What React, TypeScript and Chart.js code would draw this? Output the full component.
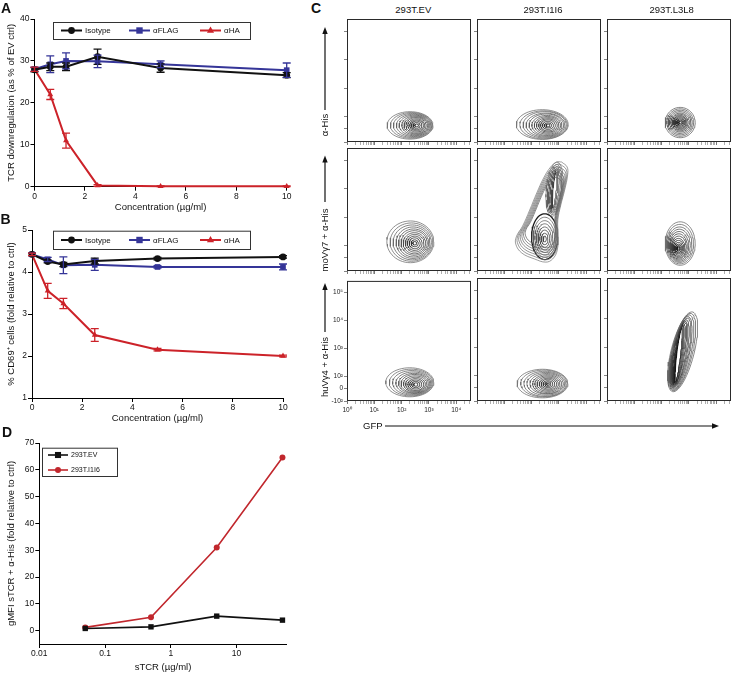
import React, { useEffect, useRef } from "react";
import { Chart, registerables } from "chart.js";

Chart.register(...registerables);

const FONT = "'Liberation Sans', Arial, Helvetica, sans-serif";
Chart.defaults.font.family = FONT;
Chart.defaults.color = "#111";

// ---------------- Panel A ----------------
const concA = [0, 0.625, 1.25, 2.5, 5, 10];
const isotypeA = [27.9, 28.6, 28.6, 31.0, 28.3, 26.6];
const isotypeAErr = [0.5, 0.9, 0.9, 1.8, 1.0, 0.6];
const flagA = [28.0, 29.2, 30.0, 29.9, 29.2, 27.8];
const flagAErr = [0.5, 2.0, 1.9, 1.5, 0.8, 1.7];
const haA = [28.0, 22.0, 11.0, 0.3, 0.1, 0.1];
const haAErr = [0.5, 1.2, 1.8, 0.2, 0.1, 0.1];
const xTicksA = [0, 2, 4, 6, 8, 10];
const yTicksA = [0, 10, 20, 30, 40];

// ---------------- Panel B ----------------
const concB = [0, 0.625, 1.25, 2.5, 5, 10];
const isotypeB = [4.42, 4.25, 4.18, 4.26, 4.32, 4.36];
const isotypeBErr = [0.03, 0.03, 0.05, 0.07, 0.03, 0.03];
const flagB = [4.42, 4.30, 4.16, 4.17, 4.12, 4.12];
const flagBErr = [0.03, 0.05, 0.2, 0.13, 0.03, 0.07];
const haB = [4.42, 3.55, 3.25, 2.50, 2.15, 2.00];
const haBErr = [0.03, 0.18, 0.12, 0.15, 0.03, 0.02];
const xTicksB = [0, 2, 4, 6, 8, 10];
const yTicksB = [1, 2, 3, 4, 5];

// ---------------- Panel D ----------------
const stcrD = [0.05, 0.5, 5, 50];
const evD = [0.8, 1.4, 5.4, 3.9];
const i1i6D = [1.2, 5.0, 31.0, 64.6];
const xTicksD = [0.01, 0.1, 1, 10];
const yTicksD = [0, 10, 20, 30, 40, 50, 60, 70];

// ---------------- Panel C (contour rings: [cx, cy, semiA, semiB, angleDeg]) ----------------
// x in log10(GFP) units, y in display decades of the biexponential axis
const cColumns = ["293T.EV", "293T.I1I6", "293T.L3L8"];
const cRows = ["\u03b1-His", "moV\u03b37 + \u03b1-His", "huV\u03b34 + \u03b1-His"];
const cXTickMajors = [0, 1, 2, 3, 4];
const cXTickLabels = ["10\u2070", "10\u00b9", "10\u00b2", "10\u00b3", "10\u2074"];
const cYTicks = [1.12, 1.585, 2, 3, 4, 5];
const cYTickLabels = ["-10\u00b2", "0", "10\u00b2", "10\u00b3", "10\u2074", "10\u2075"];

const evHisRings = [
  [2.31, 1.70, 0.84, 0.48, 0], [2.36, 1.70, 0.77, 0.45, 0], [2.40, 1.70, 0.70, 0.42, 0],
  [2.44, 1.70, 0.63, 0.39, 0], [2.47, 1.70, 0.56, 0.36, 0], [2.50, 1.70, 0.49, 0.33, 0],
  [2.52, 1.70, 0.43, 0.30, 0], [2.53, 1.70, 0.37, 0.27, 0], [2.54, 1.70, 0.31, 0.23, 0],
  [2.55, 1.70, 0.25, 0.19, 0], [2.55, 1.70, 0.19, 0.15, 0], [2.55, 1.70, 0.13, 0.10, 0],
  [2.55, 1.70, 0.07, 0.05, 0],
];
const i1i6HisRings = [
  [2.39, 1.73, 0.95, 0.52, 0], [2.44, 1.72, 0.87, 0.49, 0], [2.48, 1.72, 0.79, 0.46, 0],
  [2.51, 1.71, 0.71, 0.42, 0], [2.54, 1.71, 0.63, 0.39, 0], [2.56, 1.70, 0.55, 0.35, 0],
  [2.58, 1.70, 0.48, 0.31, 0], [2.59, 1.70, 0.41, 0.27, 0], [2.60, 1.70, 0.34, 0.23, 0],
  [2.60, 1.70, 0.27, 0.19, 0], [2.60, 1.70, 0.20, 0.14, 0], [2.60, 1.70, 0.13, 0.09, 0],
  [2.60, 1.70, 0.07, 0.05, 0],
];
const l3l8HisRings = [
  [2.68, 1.80, 0.55, 0.53, 0], [2.68, 1.80, 0.49, 0.48, 0], [2.68, 1.80, 0.44, 0.43, 0],
  [2.68, 1.80, 0.39, 0.38, 0], [2.68, 1.80, 0.34, 0.33, 0], [2.68, 1.80, 0.29, 0.29, 0],
  [2.68, 1.80, 0.25, 0.25, 0], [2.68, 1.80, 0.21, 0.21, 0], [2.68, 1.80, 0.17, 0.17, 0],
  [2.68, 1.80, 0.13, 0.13, 0], [2.68, 1.80, 0.09, 0.09, 0], [2.68, 1.80, 0.05, 0.05, 0],
];
const evMoRings = [
  [2.32, 2.14, 0.86, 0.73, 0], [2.36, 2.13, 0.78, 0.67, 0], [2.39, 2.12, 0.70, 0.61, 0],
  [2.42, 2.11, 0.62, 0.55, 0], [2.44, 2.10, 0.55, 0.49, 0], [2.46, 2.10, 0.48, 0.43, 0],
  [2.47, 2.09, 0.41, 0.37, 0], [2.48, 2.09, 0.34, 0.31, 0], [2.48, 2.09, 0.27, 0.25, 0],
  [2.48, 2.09, 0.20, 0.19, 0], [2.48, 2.09, 0.13, 0.12, 0], [2.48, 2.09, 0.07, 0.06, 0],
];
const i1i6MoOutline = [
  [3.10, 4.93], [3.30, 4.76], [3.32, 4.48], [3.21, 3.95], [3.07, 3.43], [2.96, 2.90],
  [2.97, 2.38], [2.94, 1.85], [2.77, 1.54], [2.52, 1.43], [2.11, 1.54], [1.64, 1.75],
  [1.42, 2.06], [1.45, 2.34], [1.67, 2.69], [1.93, 3.25], [2.19, 3.85], [2.44, 4.37],
  [2.70, 4.76], [2.92, 4.93],
];
const i1i6MoOutlineCenter = [2.6, 3.1];
const i1i6MoOutlineScales = [1, 0.95, 0.9, 0.85, 0.8, 0.75, 0.7];
const i1i6MoTail = [
  [2.84, 3.98, 0.95, 0.30, 84], [2.84, 3.97, 0.88, 0.25, 84], [2.84, 3.96, 0.82, 0.20, 84],
  [2.84, 3.95, 0.76, 0.15, 84], [2.84, 3.95, 0.70, 0.10, 84], [2.84, 3.95, 0.64, 0.06, 84],
];
const i1i6MoBlob = [
  [2.48, 2.32, 0.48, 0.80, 0], [2.48, 2.30, 0.42, 0.70, 0], [2.48, 2.28, 0.36, 0.60, 0],
  [2.48, 2.27, 0.30, 0.50, 0], [2.48, 2.26, 0.24, 0.40, 0], [2.48, 2.25, 0.18, 0.30, 0],
  [2.48, 2.24, 0.12, 0.20, 0], [2.48, 2.24, 0.06, 0.10, 0],
];
const l3l8MoRings = [
  [2.68, 2.08, 0.55, 0.76, 0], [2.67, 2.06, 0.50, 0.69, 0], [2.66, 2.04, 0.45, 0.62, 0],
  [2.65, 2.02, 0.40, 0.56, 0], [2.64, 2.00, 0.35, 0.50, 0], [2.63, 1.98, 0.31, 0.44, 0],
  [2.63, 1.96, 0.27, 0.38, 0], [2.62, 1.94, 0.23, 0.32, 0], [2.62, 1.93, 0.19, 0.26, 0],
  [2.62, 1.92, 0.15, 0.20, 0], [2.62, 1.91, 0.11, 0.15, 0], [2.62, 1.91, 0.07, 0.10, 0],
  [2.62, 1.91, 0.04, 0.06, 0],
];
const evHuRings = [
  [2.30, 1.79, 0.88, 0.52, 0], [2.35, 1.78, 0.80, 0.48, 0], [2.39, 1.77, 0.72, 0.44, 0],
  [2.43, 1.76, 0.64, 0.40, 0], [2.46, 1.75, 0.57, 0.36, 0], [2.48, 1.74, 0.50, 0.33, 0],
  [2.50, 1.73, 0.43, 0.29, 0], [2.51, 1.72, 0.36, 0.25, 0], [2.52, 1.71, 0.29, 0.21, 0],
  [2.52, 1.71, 0.22, 0.16, 0], [2.52, 1.71, 0.15, 0.11, 0], [2.52, 1.71, 0.08, 0.06, 0],
];
const i1i6HuRings = [
  [2.40, 1.73, 0.93, 0.50, 0], [2.45, 1.73, 0.85, 0.47, 0], [2.49, 1.72, 0.77, 0.44, 0],
  [2.52, 1.72, 0.69, 0.40, 0], [2.55, 1.72, 0.61, 0.36, 0], [2.57, 1.71, 0.53, 0.33, 0],
  [2.58, 1.71, 0.46, 0.29, 0], [2.59, 1.71, 0.39, 0.25, 0], [2.60, 1.71, 0.32, 0.21, 0],
  [2.60, 1.71, 0.25, 0.17, 0], [2.60, 1.71, 0.18, 0.12, 0], [2.60, 1.71, 0.11, 0.08, 0],
  [2.60, 1.71, 0.05, 0.04, 0],
];
const l3l8HuRings = [
  [2.77, 2.84, 1.44, 0.42, 75], [2.75, 2.83, 1.39, 0.38, 76], [2.73, 2.82, 1.34, 0.35, 77],
  [2.71, 2.81, 1.29, 0.31, 78], [2.70, 2.80, 1.24, 0.28, 78], [2.68, 2.79, 1.19, 0.25, 79],
  [2.67, 2.78, 1.15, 0.22, 80], [2.66, 2.77, 1.11, 0.18, 80], [2.65, 2.76, 1.07, 0.15, 81],
  [2.64, 2.75, 1.03, 0.12, 82], [2.63, 2.74, 0.99, 0.09, 82], [2.62, 2.73, 0.96, 0.07, 83],
];

// ---------------- helpers ----------------
function drawMarker(ctx: CanvasRenderingContext2D, style: string, x: number, y: number, r: number, color: string) {
  ctx.save();
  ctx.fillStyle = color;
  ctx.beginPath();
  if (style === "circle") ctx.arc(x, y, r, 0, Math.PI * 2);
  else if (style === "rect") {
    const s = r * 0.8;
    ctx.rect(x - s, y - s, 2 * s, 2 * s);
  } else {
    ctx.moveTo(x, y - r * 1.15);
    ctx.lineTo(x + r * 1.05, y + r * 0.65);
    ctx.lineTo(x - r * 1.05, y + r * 0.65);
    ctx.closePath();
  }
  ctx.fill();
  ctx.restore();
}

const errorBarPlugin = {
  id: "errorBars",
  afterDatasetsDraw(chart: any) {
    const ctx = chart.ctx;
    const xs = chart.scales.x;
    const ys = chart.scales.y;
    chart.data.datasets.forEach((ds: any) => {
      if (!ds.errors) return;
      ctx.save();
      ctx.strokeStyle = ds.borderColor;
      ctx.lineWidth = 1.3;
      ds.data.forEach((pt: any, j: number) => {
        const e = ds.errors[j];
        if (!e) return;
        const x = xs.getPixelForValue(pt.x);
        const y1 = ys.getPixelForValue(pt.y + e);
        const y2 = ys.getPixelForValue(pt.y - e);
        ctx.beginPath();
        ctx.moveTo(x, y1); ctx.lineTo(x, y2);
        ctx.moveTo(x - 4, y1); ctx.lineTo(x + 4, y1);
        ctx.moveTo(x - 4, y2); ctx.lineTo(x + 4, y2);
        ctx.stroke();
      });
      ctx.restore();
    });
  },
};

function makeLegendPlugin(L: any) {
  return {
    id: "boxLegend",
    afterDraw(chart: any) {
      const ctx = chart.ctx;
      ctx.save();
      ctx.strokeStyle = "#333";
      ctx.lineWidth = 1;
      ctx.strokeRect(L.x + 0.5, L.y + 0.5, L.w, L.h);
      chart.data.datasets.forEach((ds: any, i: number) => {
        const it = L.items[i];
        const x0 = L.x + it[0];
        const y0 = L.y + it[1];
        ctx.strokeStyle = ds.borderColor;
        ctx.lineWidth = ds.borderWidth;
        ctx.beginPath();
        ctx.moveTo(x0, y0);
        ctx.lineTo(x0 + L.lineLen, y0);
        ctx.stroke();
        drawMarker(ctx, ds.pointStyle, x0 + L.lineLen / 2, y0, ds.pointRadius, ds.borderColor);
        ctx.fillStyle = "#111";
        ctx.font = `${L.fontSize}px ${FONT}`;
        ctx.textBaseline = "middle";
        ctx.textAlign = "left";
        ctx.fillText(ds.label, x0 + L.lineLen + L.textGap, y0 + 0.5);
      });
      ctx.restore();
    },
  };
}

function xyConfig(p: any) {
  const datasets = p.series.map((s: any) => ({
    label: s.label,
    data: p.xs.map((x: number, i: number) => ({ x, y: s.ys[i] })),
    errors: s.errs,
    borderColor: s.color,
    backgroundColor: s.color,
    pointStyle: s.style,
    pointRadius: s.r,
    pointHoverRadius: s.r,
    pointBorderWidth: 0,
    borderWidth: s.w,
    tension: 0,
    clip: false,
  }));
  const axisCommon = {
    grid: { drawOnChartArea: false, tickLength: 4, color: "#000", lineWidth: 1 },
    border: { color: "#000", width: 1 },
  };
  return {
    type: "line",
    data: { datasets },
    options: {
      responsive: false,
      animation: false,
      events: [],
      layout: { padding: { top: p.padTop, right: p.padRight, left: 0, bottom: 0 } },
      plugins: { legend: { display: false }, tooltip: { enabled: false } },
      scales: {
        x: {
          ...axisCommon,
          type: p.xLog ? "logarithmic" : "linear",
          min: p.xMin,
          max: p.xMax,
          afterFit: (s: any) => { s.height = p.xAxisH; },
          afterBuildTicks: (s: any) => { s.ticks = p.xTicks.map((v: number) => ({ value: v })); },
          ticks: { font: { size: p.tickSize }, color: "#111", padding: 1, autoSkip: false, maxRotation: 0, callback: (v: any) => String(v) },
          title: { display: true, text: p.xTitle, font: { size: p.titleSize }, color: "#111", padding: { top: 0, bottom: p.xTitlePadB } },
        },
        y: {
          ...axisCommon,
          type: "linear",
          min: p.yMin,
          max: p.yMax,
          afterFit: (s: any) => { s.width = p.yAxisW; },
          afterBuildTicks: (s: any) => { s.ticks = p.yTicks.map((v: number) => ({ value: v })); },
          ticks: { font: { size: p.tickSize }, color: "#111", padding: 1, autoSkip: false, callback: (v: any) => String(v) },
          title: { display: true, text: p.yTitle, font: { size: p.titleSize }, color: "#111", padding: { top: p.yTitlePadT, bottom: 0 } },
        },
      },
    },
    plugins: [errorBarPlugin, makeLegendPlugin(p.legend)],
  };
}

function ellipsePts(r: number[]) {
  const [cx, cy, a, b, ang] = r;
  const t = ((ang || 0) * Math.PI) / 180;
  const pts: { x: number; y: number }[] = [];
  const N = 56;
  for (let k = 0; k <= N; k++) {
    const u = (k / N) * Math.PI * 2;
    const ex = a * Math.cos(u);
    const ey = b * Math.sin(u);
    pts.push({ x: cx + ex * Math.cos(t) - ey * Math.sin(t), y: cy + ex * Math.sin(t) + ey * Math.cos(t) });
  }
  return pts;
}

function outlinePts(outline: number[][], c: number[], s: number) {
  const pts = outline.map((p) => ({ x: c[0] + s * (p[0] - c[0]), y: c[1] + s * (p[1] - c[1]) }));
  pts.push({ ...pts[0] });
  return pts;
}

function gray(light: number, dark: number, i: number, n: number) {
  const t = n > 1 ? i / (n - 1) : 0;
  const g = Math.round(light + (dark - light) * t);
  return `rgb(${g},${g},${g})`;
}

const C_LEFTS = [347, 477, 607];
const C_TOPS = [19, 148, 278];
const C_W = 124;
const C_H = 123;
const C_XPX = 27.3;
const C_YPX = 28.6;
const C_PADL = 28;
const C_PADB = 20;

const framePlugin = {
  id: "frame",
  afterDraw(chart: any) {
    const { ctx, chartArea: a } = chart;
    ctx.save();
    ctx.strokeStyle = "#2a2a2a";
    ctx.lineWidth = 1;
    ctx.strokeRect(a.left + 0.5, a.top + 0.5, a.right - a.left - 1, a.bottom - a.top - 1);
    ctx.restore();
  },
};

function contourConfig(families: any[], labels: boolean) {
  const datasets: any[] = [];
  families.forEach((f) => {
    if (f.outline) {
      f.scales.forEach((s: number, i: number) => {
        datasets.push({ data: outlinePts(f.outline, f.center, s), borderColor: gray(f.light, f.dark, i, f.scales.length), borderWidth: f.width, pointRadius: 0, tension: 0.4, fill: false });
      });
    } else {
      f.rings.forEach((r: number[], i: number) => {
        datasets.push({ data: ellipsePts(r), borderColor: i === 0 && f.edge ? f.edge : gray(f.light, f.dark, i, f.rings.length), borderWidth: i === 0 && f.edgeW ? f.edgeW : f.width, pointRadius: 0, tension: 0, fill: false });
      });
    }
  });
  const xTickVals: number[] = [];
  const xTickLbl: string[] = [];
  const xMax = C_W / C_XPX;
  cXTickMajors.forEach((m, mi) => {
    for (let k = 1; k <= 9; k++) {
      const v = m + Math.log10(k);
      if (v <= xMax) {
        xTickVals.push(v);
        xTickLbl.push(k === 1 ? cXTickLabels[mi] : "");
      }
    }
  });
  return {
    type: "line",
    data: { datasets },
    options: {
      responsive: false,
      animation: false,
      events: [],
      layout: { padding: { top: 2, right: 3, left: 0, bottom: 0 } },
      plugins: { legend: { display: false }, tooltip: { enabled: false } },
      scales: {
        x: {
          type: "linear",
          min: 0,
          max: xMax,
          afterFit: (s: any) => { s.height = C_PADB; },
          afterBuildTicks: (s: any) => { s.ticks = xTickVals.map((v) => ({ value: v })); },
          ticks: { display: labels, autoSkip: false, maxRotation: 0, padding: 2, font: { size: 6.5 }, color: "#222", callback: (_v: any, i: number) => xTickLbl[i] },
          grid: { drawOnChartArea: false, tickLength: 3, tickColor: (c: any) => (xTickLbl[c.index] ? "#555" : "#999"), tickWidth: 0.8 },
          border: { display: false },
        },
        y: {
          type: "linear",
          min: 1.12,
          max: 1.12 + C_H / C_YPX,
          afterFit: (s: any) => { s.width = C_PADL; },
          afterBuildTicks: (s: any) => { s.ticks = cYTicks.map((v) => ({ value: v })); },
          ticks: { display: labels, autoSkip: false, padding: 1, font: { size: 6.5 }, color: "#222", callback: (_v: any, i: number) => cYTickLabels[i] },
          grid: { drawOnChartArea: false, tickLength: 3, tickColor: "#666", tickWidth: 0.8 },
          border: { display: false },
        },
      },
    },
    plugins: [framePlugin],
  };
}

function ChartBox({ left, top, width, height, make }: any) {
  const ref = useRef<HTMLCanvasElement>(null);
  useEffect(() => {
    const chart = new Chart(ref.current as HTMLCanvasElement, make());
    return () => chart.destroy();
  }, []);
  return (
    <canvas
      ref={ref}
      width={width}
      height={height}
      style={{ position: "absolute", left, top, width, height }}
    />
  );
}

function Txt({ x, y, size, bold, rotate, children, align }: any) {
  const tx = align === "left" ? "0" : "-50%";
  return (
    <div
      style={{
        position: "absolute",
        left: x,
        top: y,
        transform: `translate(${tx}, -50%)${rotate ? ` rotate(${rotate}deg)` : ""}`,
        transformOrigin: align === "left" ? "0 50%" : "50% 50%",
        fontFamily: FONT,
        fontSize: size,
        fontWeight: bold ? "bold" : "normal",
        lineHeight: 1,
        whiteSpace: "nowrap",
        color: "#111",
      }}
    >
      {children}
    </div>
  );
}

const COLORS = { black: "#111111", blue: "#353598", red: "#cc2229", redD: "#c1272d" };

export default function App() {
  const legendItems3 = [[8, 8.5], [76, 8.5], [147, 8.5]];
  const makeA = () =>
    xyConfig({
      xs: concA,
      series: [
        { label: "Isotype", ys: isotypeA, errs: isotypeAErr, color: COLORS.black, style: "circle", r: 3.4, w: 2 },
        { label: "\u03b1FLAG", ys: flagA, errs: flagAErr, color: COLORS.blue, style: "rect", r: 4, w: 2 },
        { label: "\u03b1HA", ys: haA, errs: haAErr, color: COLORS.red, style: "triangle", r: 3.4, w: 2 },
      ],
      xMin: 0, xMax: 10, yMin: 0, yMax: 40, xTicks: xTicksA, yTicks: yTicksA,
      xTitle: "Concentration (\u00b5g/ml)", yTitle: "TCR downregulation (as % of EV ctrl)",
      tickSize: 8.5, titleSize: 9.5, yAxisW: 34.5, xAxisH: 28.3, padTop: 19, padRight: 13.3,
      xTitlePadB: 2, yTitlePadT: 6,
      legend: { x: 53, y: 22, w: 197, h: 17, items: legendItems3, lineLen: 21, textGap: 3, fontSize: 8 },
    });
  const makeB = () =>
    xyConfig({
      xs: concB,
      series: [
        { label: "Isotype", ys: isotypeB, errs: isotypeBErr, color: COLORS.black, style: "circle", r: 3.4, w: 2 },
        { label: "\u03b1FLAG", ys: flagB, errs: flagBErr, color: COLORS.blue, style: "rect", r: 4, w: 2 },
        { label: "\u03b1HA", ys: haB, errs: haBErr, color: COLORS.red, style: "triangle", r: 3.4, w: 2 },
      ],
      xMin: 0, xMax: 10, yMin: 1, yMax: 5, xTicks: xTicksB, yTicks: yTicksB,
      xTitle: "Concentration (\u00b5g/ml)", yTitle: "% CD69\u207a cells (fold relative to ctrl)",
      tickSize: 8.5, titleSize: 9.5, yAxisW: 32, xAxisH: 28, padTop: 18, padRight: 17,
      xTitlePadB: 2, yTitlePadT: 6,
      legend: { x: 53, y: 18.7, w: 197, h: 18.3, items: [[8, 9.3], [76, 9.3], [147, 9.3]], lineLen: 21, textGap: 3, fontSize: 8 },
    });
  const makeD = () =>
    xyConfig({
      xs: stcrD,
      xLog: true,
      series: [
        { label: "293T.EV", ys: evD, errs: null, color: COLORS.black, style: "rect", r: 3.8, w: 1.6 },
        { label: "293T.I1I6", ys: i1i6D, errs: null, color: COLORS.redD, style: "circle", r: 3, w: 1.6 },
      ],
      xMin: 0.01, xMax: 58, yMin: -5, yMax: 70, xTicks: xTicksD, yTicks: yTicksD,
      xTitle: "sTCR (\u00b5g/ml)", yTitle: "gMFI sTCR + \u03b1-His (fold relative to ctrl)",
      tickSize: 8.5, titleSize: 9.5, yAxisW: 39.3, xAxisH: 31, padTop: 18, padRight: 13.3,
      xTitlePadB: 2, yTitlePadT: 6,
      legend: { x: 42, y: 22.7, w: 75, h: 28.3, items: [[6, 7.3], [6, 22.3]], lineLen: 20, textGap: 3, fontSize: 7 },
    });

  const std = { light: 115, dark: 35, width: 0.8 };
  const cPanels: any[][] = [
    [
      [{ rings: evHisRings, ...std }],
      [{ rings: i1i6HisRings, ...std }],
      [{ rings: l3l8HisRings, light: 100, dark: 20, width: 0.8 }],
    ],
    [
      [{ rings: evMoRings, ...std }],
      [
        { outline: i1i6MoOutline, center: i1i6MoOutlineCenter, scales: i1i6MoOutlineScales, light: 125, dark: 95, width: 0.75 },
        { rings: i1i6MoTail, light: 100, dark: 55, width: 0.75 },
        { rings: i1i6MoBlob, light: 95, dark: 60, width: 0.75, edge: "#1a1a1a", edgeW: 1.3 },
      ],
      [{ rings: l3l8MoRings, light: 110, dark: 20, width: 0.8 }],
    ],
    [
      [{ rings: evHuRings, ...std }],
      [{ rings: i1i6HuRings, ...std }],
      [{ rings: l3l8HuRings, light: 105, dark: 15, width: 0.8 }],
    ],
  ];

  return (
    <div style={{ position: "absolute", left: 0, top: 0, width: 732, height: 675, background: "#fff", overflow: "hidden" }}>
      <ChartBox left={0} top={0} width={300} height={215} make={makeA} />
      <ChartBox left={0} top={212} width={300} height={214} make={makeB} />
      <ChartBox left={0} top={425} width={300} height={250} make={makeD} />
      {cPanels.map((row, ri) =>
        row.map((fams, ci) => (
          <ChartBox
            key={`c${ri}${ci}`}
            left={C_LEFTS[ci] - C_PADL}
            top={C_TOPS[ri] - 2}
            width={C_W + C_PADL + 3}
            height={C_H + 2 + C_PADB}
            make={() => contourConfig(fams, ri === 2 && ci === 0)}
          />
        ))
      )}
      <Txt x={6} y={8} size={14} bold>A</Txt>
      <Txt x={5.5} y={219} size={14} bold>B</Txt>
      <Txt x={316} y={8} size={14} bold>C</Txt>
      <Txt x={7} y={432} size={14} bold>D</Txt>
      <Txt x={413.3} y={10} size={9.5}>{cColumns[0]}</Txt>
      <Txt x={543} y={10} size={9.5}>{cColumns[1]}</Txt>
      <Txt x={671.7} y={10} size={9.5}>{cColumns[2]}</Txt>
      <Txt x={325} y={125} size={9.5} rotate={-90}>{cRows[0]}</Txt>
      <Txt x={325} y={240} size={9.5} rotate={-90}>{cRows[1]}</Txt>
      <Txt x={325} y={367} size={9.5} rotate={-90}>{cRows[2]}</Txt>
      <Txt x={363} y={426} size={9.5} align="left">GFP</Txt>
      <svg width={732} height={675} style={{ position: "absolute", left: 0, top: 0, pointerEvents: "none" }}>
        <g stroke="#111" strokeWidth={1.2} fill="#111">
          <line x1={325} y1={110} x2={325} y2={32} />
          <polygon points="325,27 322.3,34 327.7,34" stroke="none" />
          <line x1={325} y1={202} x2={325} y2={160} />
          <polygon points="325,155.5 322.3,162.5 327.7,162.5" stroke="none" />
          <line x1={325} y1={332} x2={325} y2={288} />
          <polygon points="325,283 322.3,290 327.7,290" stroke="none" />
          <line x1={385} y1={426} x2={713} y2={426} />
          <polygon points="719,426 712,423.3 712,428.7" stroke="none" />
        </g>
      </svg>
    </div>
  );
}
